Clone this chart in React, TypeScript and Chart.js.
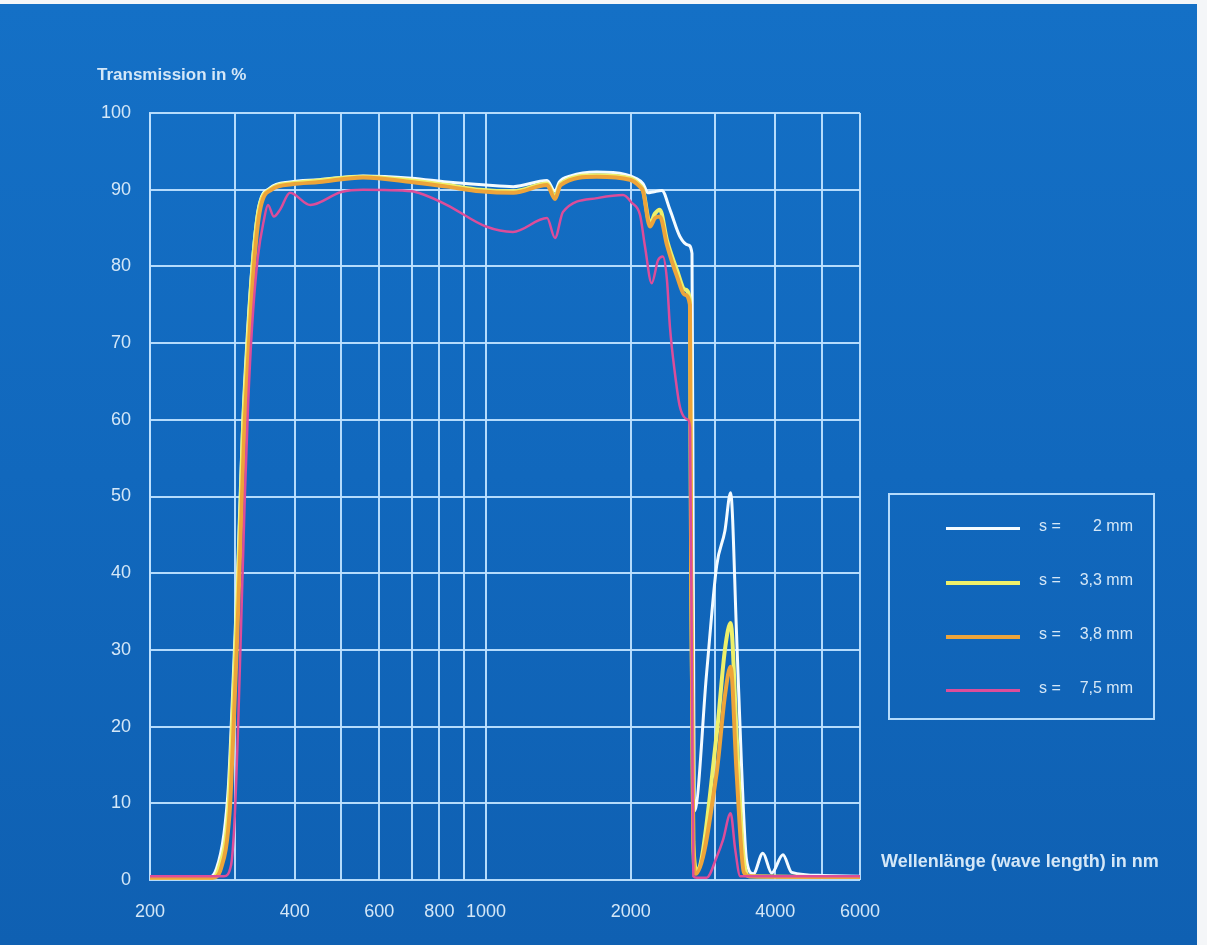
import React, { useEffect, useRef } from 'react';
import { Chart, registerables } from 'chart.js';

Chart.register(...registerables);

// ---- Data (wavelength in nm, transmission in %) ----
const wl2mm = [200, 265, 275, 285, 291, 296, 301, 305, 308, 312, 318, 326, 336, 355, 391, 450, 555, 700, 830, 1000, 1140, 1340, 1392, 1420, 1500, 1700, 1950, 2050, 2122, 2173, 2226, 2323, 2414, 2532, 2632, 2683, 2700, 2715, 2878, 3020, 3141, 3228, 3322, 3402, 3484, 3600, 3768, 3930, 4148, 4324, 5000, 6000];
const t2mm = [0.3, 0.3, 1.5, 6, 12, 22, 33, 42, 50, 60, 70, 80, 87.5, 90.2, 91, 91.3, 91.8, 91.5, 91, 90.6, 90.4, 91.2, 89.8, 91, 91.8, 92.3, 92, 91.5, 90.8, 89.6, 89.7, 89.9, 87.4, 83.9, 82.8, 81.7, 40, 9, 27, 41, 45.5, 50.5, 32, 14.8, 2.6, 0.8, 3.5, 0.9, 3.3, 1, 0.6, 0.5];

const wl33mm = [200, 268, 278, 291, 296, 301, 305, 308, 312, 318, 326, 336, 355, 391, 450, 555, 700, 830, 972, 1140, 1340, 1392, 1430, 1700, 1993, 2090, 2122, 2194, 2247, 2300, 2380, 2497, 2594, 2657, 2672, 2700, 2745, 3020, 3141, 3228, 3322, 3423, 3520, 6000];
const t33mm = [0.3, 0.3, 1.5, 9, 19, 30, 39, 47, 58, 68, 79, 87, 90, 90.8, 91.2, 91.7, 91.2, 90.6, 90, 89.8, 90.8, 89.1, 90.8, 91.9, 91.5, 90.6, 90, 85.6, 86.9, 87.4, 83.4, 79.5, 77, 75.6, 40, 5, 1.3, 19, 30, 33.5, 19, 3.9, 0.5, 0.4];

const wl38mm = [200, 270, 281, 293, 298, 303, 307, 310, 314, 320, 328, 338, 358, 395, 450, 555, 700, 830, 972, 1140, 1340, 1392, 1430, 1700, 1993, 2090, 2122, 2194, 2247, 2300, 2380, 2497, 2594, 2657, 2672, 2700, 2730, 3020, 3141, 3228, 3322, 3440, 3540, 6000];
const t38mm = [0.3, 0.3, 1.5, 9, 19, 30, 40, 48, 58, 68, 79, 87, 90, 90.7, 91, 91.6, 91, 90.4, 89.8, 89.6, 90.6, 88.8, 90.6, 91.7, 91.3, 90.4, 89.8, 85.2, 86.3, 86.5, 82.8, 78.7, 76.3, 75, 40, 4, 0.8, 14, 24, 27.8, 14, 1, 0.5, 0.4];

const wl75mm = [200, 285, 295, 300, 305, 310, 315, 320, 326, 335, 345, 352, 362, 373, 391, 431, 500, 555, 700, 739, 830, 1000, 1138, 1340, 1392, 1446, 1702, 1928, 2010, 2092, 2142, 2212, 2280, 2334, 2380, 2414, 2472, 2532, 2632, 2657, 2680, 2700, 2745, 2878, 3020, 3112, 3228, 3300, 3380, 6000];
const t75mm = [0.5, 0.5, 2, 8, 20, 35, 50, 62, 72, 81, 86, 88, 86.5, 87.4, 89.6, 88, 89.7, 90, 89.8, 89.4, 88, 85.2, 84.5, 86.3, 83.7, 87.1, 88.9, 89.3, 88.3, 86.7, 82.6, 77.8, 80.8, 81.3, 78.2, 72.1, 66.1, 61.7, 60, 59, 30, 0.5, 0.3, 0.3, 3, 5.2, 8.7, 4, 0.5, 0.5];

const thicknessLabels = ['2 mm', '3,3 mm', '3,8 mm', '7,5 mm'];
const seriesColors = ['#f4fbff', '#eef06a', '#eda43a', '#dc4d9a'];
const seriesWidths = [3, 4, 4, 2.5];
const seriesOrder = [4, 3, 2, 1];

const xGridValues = [200, 300, 400, 500, 600, 700, 800, 900, 1000, 2000, 3000, 4000, 5000, 6000];
const xLabelValues = [200, 400, 600, 800, 1000, 2000, 4000, 6000];

const yAxisTitle = 'Transmission in %';
const xAxisTitle = 'Wellenlänge (wave length) in nm';

const wls = [wl2mm, wl33mm, wl38mm, wl75mm];
const ts = [t2mm, t33mm, t38mm, t75mm];

const gridColor = 'rgba(190,226,255,0.95)';
const textColor = '#d4e7f7';
const narrow = "'Liberation Sans Narrow', 'Arial Narrow', 'Liberation Sans', Arial, sans-serif";

export default function App() {
  const ref = useRef<HTMLCanvasElement>(null);

  useEffect(() => {
    document.body.style.margin = '0';
    const canvas = ref.current;
    if (!canvas) return;
    const chart = new Chart(canvas, {
      type: 'line',
      data: {
        datasets: thicknessLabels.map((lab, k) => ({
          label: 's = ' + lab,
          data: wls[k].map((x, i) => ({ x, y: ts[k][i] })),
          borderColor: seriesColors[k],
          borderWidth: seriesWidths[k],
          pointRadius: 0,
          fill: false,
          cubicInterpolationMode: 'monotone' as const,
          order: seriesOrder[k],
        })),
      },
      options: {
        animation: false,
        responsive: false,
        maintainAspectRatio: false,
        layout: { padding: { left: 0, top: 113, right: 347, bottom: 0 } },
        plugins: { legend: { display: false }, tooltip: { enabled: false } },
        scales: {
          x: {
            type: 'logarithmic',
            min: 200,
            max: 6000,
            afterBuildTicks: (s: any) => {
              s.ticks = xGridValues.map((v) => ({ value: v }));
            },
            afterFit: (s: any) => {
              s.height = 65;
            },
            grid: { color: gridColor, lineWidth: 2, drawTicks: false },
            border: { display: false },
            ticks: {
              autoSkip: false,
              maxRotation: 0,
              padding: 21,
              color: textColor,
              font: { family: narrow, size: 18 },
              callback: (v: any) => (xLabelValues.includes(Number(v)) ? String(v) : ''),
            },
          },
          y: {
            type: 'linear',
            min: 0,
            max: 100,
            afterFit: (s: any) => {
              s.width = 150;
            },
            grid: { color: gridColor, lineWidth: 2, drawTicks: false },
            border: { display: true, color: gridColor, width: 2 },
            ticks: {
              stepSize: 10,
              padding: 19,
              color: textColor,
              font: { family: narrow, size: 18 },
            },
          },
        },
      },
    });
    return () => chart.destroy();
  }, []);

  return (
    <div style={{ position: 'relative', width: 1207, height: 945, background: '#f4f6f8', overflow: 'hidden' }}>
      <div
        style={{
          position: 'absolute',
          left: 0,
          top: 4,
          width: 1197,
          height: 941,
          background: 'linear-gradient(180deg, #1470c6 0%, #1168bd 50%, #0f60b2 100%)',
        }}
      />
      <canvas ref={ref} width={1207} height={945} style={{ position: 'absolute', left: 0, top: 0, width: 1207, height: 945 }} />
      <div
        style={{
          position: 'absolute',
          left: 97,
          top: 65,
          color: textColor,
          fontFamily: narrow,
          fontSize: 17,
          fontWeight: 'bold',
          whiteSpace: 'nowrap',
        }}
      >
        {yAxisTitle}
      </div>
      <div
        style={{
          position: 'absolute',
          left: 881,
          top: 851,
          color: textColor,
          fontFamily: narrow,
          fontSize: 18,
          fontWeight: 'bold',
          whiteSpace: 'nowrap',
        }}
      >
        {xAxisTitle}
      </div>
      <div
        style={{
          position: 'absolute',
          left: 888,
          top: 493,
          width: 263,
          height: 223,
          border: '2px solid ' + gridColor,
        }}
      >
        {thicknessLabels.map((lab, k) => (
          <div key={k} style={{ position: 'absolute', left: 0, top: 22 + k * 54, width: 263, height: 24 }}>
            <div
              style={{
                position: 'absolute',
                left: 56,
                top: 10,
                width: 74,
                height: seriesWidths[k],
                background: seriesColors[k],
              }}
            />
            <div
              style={{
                position: 'absolute',
                left: 149,
                top: 0,
                color: textColor,
                fontFamily: narrow,
                fontSize: 16,
                whiteSpace: 'nowrap',
              }}
            >
              s =
            </div>
            <div
              style={{
                position: 'absolute',
                right: 20,
                top: 0,
                color: textColor,
                fontFamily: narrow,
                fontSize: 16,
                whiteSpace: 'nowrap',
              }}
            >
              {lab}
            </div>
          </div>
        ))}
      </div>
    </div>
  );
}
